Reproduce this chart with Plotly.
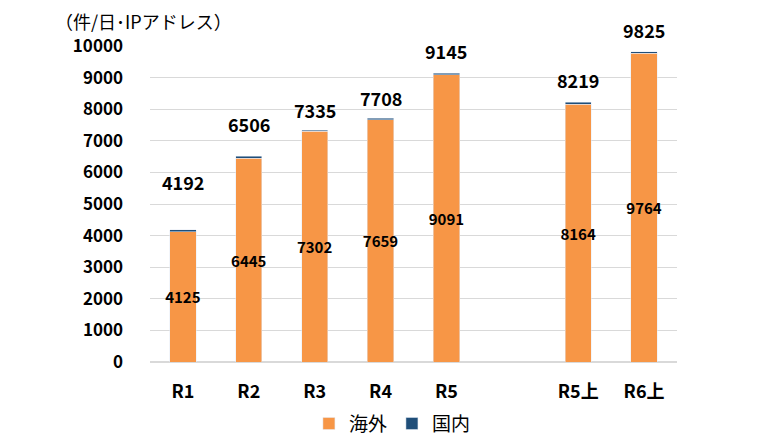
import plotly.graph_objects as go

# categories (blank one keeps the gap between R5 and R5上)
categories = ['R1', 'R2', 'R3', 'R4', 'R5', ' ', 'R5上', 'R6上']
overseas = [4125, 6445, 7302, 7659, 9091, None, 8164, 9764]
domestic = [67, 61, 33, 49, 54, None, 55, 61]
totals = [4192, 6506, 7335, 7708, 9145, None, 8219, 9825]
y_ticks = [0, 1000, 2000, 3000, 4000, 5000, 6000, 7000, 8000, 9000, 10000]

ORANGE = '#F79646'
NAVY = '#1F4E79'
FONT = 'Noto Sans CJK JP'

fig = go.Figure()
fig.add_trace(go.Bar(
    name='海外', x=categories, y=overseas, marker_color=ORANGE,
    text=[str(v) if v else '' for v in overseas], textposition='inside',
    insidetextanchor='middle', textangle=0, constraintext='none',
    textfont=dict(family=FONT, size=15, color='#000000', weight='bold'),
    width=0.4,
))
fig.add_trace(go.Bar(
    name='国内', x=categories, y=domestic, marker_color=NAVY,
    textposition='none', width=0.4,
))

# total labels above the bars
shifts = [48, 32, 20, 20, 22, 0, 22, 22]
for c, t, s in zip(categories, totals, shifts):
    if t is None:
        continue
    fig.add_annotation(x=c, y=t, text='<b>%d</b>' % t, showarrow=False,
                       yshift=s, font=dict(family=FONT, size=18, color='#000000'))

fig.add_annotation(xref='paper', yref='paper', x=-0.184, y=1.08, xanchor='left',
                   yanchor='middle', text='（件/日･IPアドレス）', showarrow=False,
                   font=dict(family=FONT, size=18, color='#000000'))

# page body has an 8px margin, so the figure is sized to fit inside the window
fig.update_layout(
    barmode='stack', width=771, height=431,
    margin=dict(l=142, r=102, t=38, b=77, autoexpand=False),
    plot_bgcolor='white', paper_bgcolor='white',
    font=dict(family=FONT, color='#000000'),
    showlegend=True,
    legend=dict(orientation='h', x=0.46, xanchor='center', y=-0.135, yanchor='top',
                font=dict(size=19), traceorder='normal', itemwidth=30,
                tracegroupgap=0),
    bargap=0.6,
)
fig.update_xaxes(type='category', categoryorder='array', categoryarray=categories,
                 showgrid=False, showline=False, ticks='',
                 tickfont=dict(size=18, weight='bold'), ticklabelstandoff=17)
fig.update_yaxes(range=[0, 10000], tickvals=y_ticks, ticktext=[str(v) for v in y_ticks],
                 showgrid=True, gridcolor='#D9D9D9', gridwidth=1, zeroline=True,
                 zerolinecolor='#D9D9D9', zerolinewidth=1.5,
                 tickfont=dict(size=17, weight='bold'), ticklabelstandoff=26)

fig.write_html('out.html')
